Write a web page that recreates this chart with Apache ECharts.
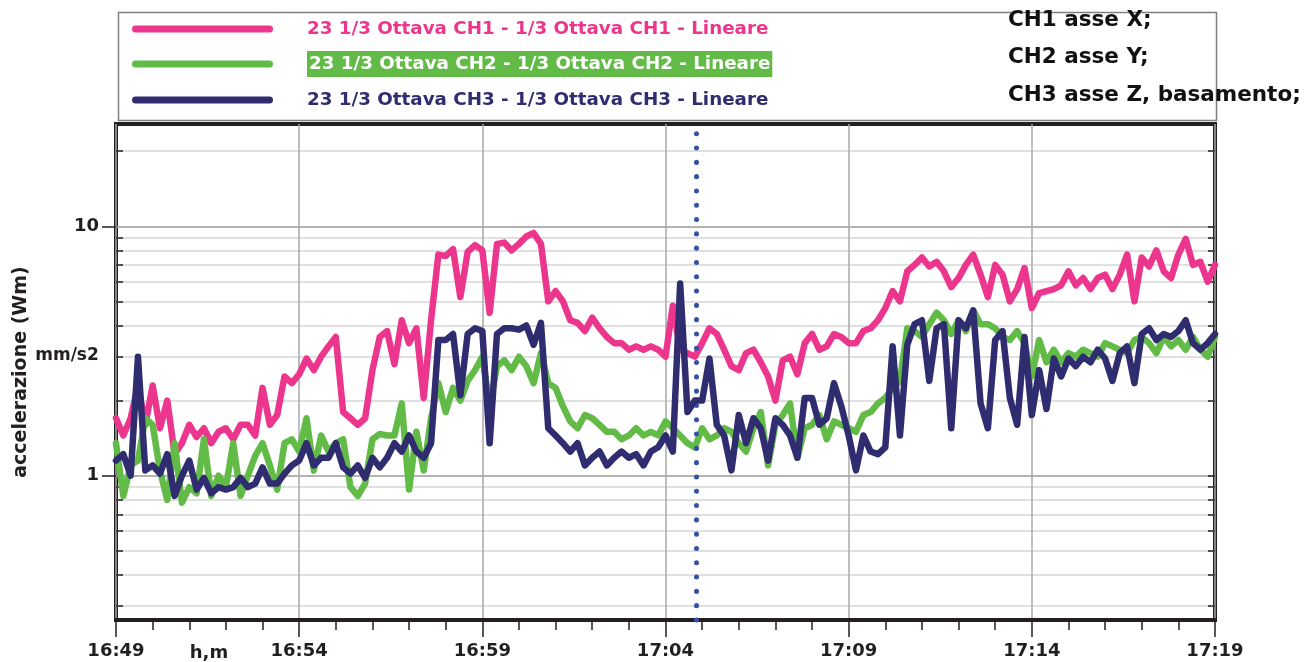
<!DOCTYPE html>
<html>
<head>
<meta charset="utf-8">
<script src="https://cdn.jsdelivr.net/npm/echarts@6/dist/echarts.min.js"></script>
<style>html,body{margin:0;padding:0;background:#fff;}#chart{width:1314px;height:662px;}</style>
</head>
<body>
<div id="chart"></div>
<script>
// ---- data (sampled every 0.2 min from 16:49) ----
const START_LABEL_MIN = 16 * 60 + 49;   // 16:49
const STEP_MIN = 0.2;
const SERIES_NAMES = [
  '23 1/3 Ottava CH1 - 1/3 Ottava CH1 - Lineare',
  '23 1/3 Ottava CH2 - 1/3 Ottava CH2 - Lineare',
  '23 1/3 Ottava CH3 - 1/3 Ottava CH3 - Lineare'
];
const CH1 = [
  1.7, 1.45, 1.7, 2.3, 1.6, 2.3, 1.55, 2.0, 1.22, 1.35, 1.6, 1.43, 1.55, 1.35, 1.5, 1.55, 1.4, 1.6, 1.6, 1.45,
  2.25, 1.6, 1.75, 2.5, 2.35, 2.55, 2.95, 2.65, 3.0, 3.3, 3.6, 1.8, 1.7, 1.6, 1.7, 2.65, 3.6, 3.8, 2.8, 4.2, 3.4,
  3.9, 2.05, 4.2, 7.7, 7.6, 8.1, 5.2, 7.9, 8.4, 8.0, 4.5, 8.5, 8.6, 8.0, 8.5, 9.1, 9.4, 8.5, 5.0, 5.5,
  5.0, 4.2, 4.1, 3.8, 4.3, 3.9, 3.6, 3.4, 3.4, 3.2, 3.3, 3.2, 3.3, 3.2, 3.0, 4.8, 3.2, 3.1, 3.0,
  3.4, 3.9, 3.7, 3.2, 2.75, 2.65, 3.1, 3.2, 2.85, 2.5, 2.0, 2.9, 3.0, 2.55, 3.4, 3.7, 3.2, 3.3, 3.7, 3.6,
  3.4, 3.4, 3.8, 3.9, 4.2, 4.7, 5.5, 5.0, 6.6, 7.0, 7.5, 6.9, 7.2, 6.6, 5.7, 6.2, 7.0, 7.7, 6.4, 5.2,
  7.0, 6.4, 5.0, 5.6, 6.8, 4.7, 5.4, 5.5, 5.6, 5.8, 6.6, 5.8, 6.2, 5.6, 6.2, 6.4, 5.6, 6.4, 7.7, 5.0,
  7.5, 6.9, 8.0, 6.6, 6.2, 7.7, 8.9, 7.0, 7.2, 6.0, 7.0
];
const CH2 = [
  1.35, 0.83, 1.1, 1.15, 1.7, 1.6, 1.05, 0.8, 1.35, 0.78, 0.9, 0.85, 1.4, 0.83, 1.0, 0.9, 1.35, 0.83, 1.0, 1.2,
  1.35, 1.1, 0.88, 1.35, 1.4, 1.25, 1.7, 1.05, 1.45, 1.25, 1.35, 1.4, 0.9, 0.83, 0.93, 1.4, 1.47, 1.45, 1.45, 1.95, 0.88,
  1.5, 1.05, 1.7, 2.35, 1.8, 2.25, 2.0, 2.4, 2.65, 3.0, 1.9, 2.75, 2.9, 2.65, 3.0, 2.75, 2.35, 3.1, 2.35, 2.25,
  1.9, 1.65, 1.55, 1.75, 1.7, 1.6, 1.5, 1.5, 1.4, 1.45, 1.55, 1.45, 1.5, 1.45, 1.65, 1.55, 1.45, 1.35, 1.3,
  1.55, 1.4, 1.45, 1.55, 1.5, 1.35, 1.25, 1.55, 1.8, 1.1, 1.6, 1.75, 1.95, 1.18, 1.55, 1.6, 1.75, 1.4, 1.65, 1.6,
  1.55, 1.5, 1.75, 1.8, 1.95, 2.05, 2.25, 2.4, 3.9, 3.8, 3.6, 4.05, 4.5, 4.2, 3.7, 4.2, 3.8, 4.6, 4.05, 4.05,
  3.9, 3.6, 3.5, 3.8, 3.4, 2.5, 3.5, 2.85, 3.2, 2.85, 3.1, 3.0, 3.2, 3.1, 3.0, 3.4, 3.3, 3.2, 3.1, 3.5,
  3.6, 3.4, 3.1, 3.6, 3.3, 3.5, 3.2, 3.6, 3.2, 3.0, 3.6
];
const CH3 = [
  1.15, 1.22, 1.0, 3.0, 1.05, 1.1, 1.02, 1.22, 0.83, 1.0, 1.15, 0.88, 0.98, 0.85, 0.9, 0.88, 0.9, 0.98, 0.9, 0.93,
  1.08, 0.93, 0.93, 1.02, 1.1, 1.15, 1.35, 1.1, 1.18, 1.18, 1.35, 1.08, 1.02, 1.1, 0.98, 1.18, 1.08, 1.18, 1.35, 1.25, 1.45,
  1.25, 1.18, 1.35, 3.5, 3.5, 3.7, 2.1, 3.7, 3.9, 3.8, 1.35, 3.7, 3.9, 3.9, 3.85, 4.0, 3.35, 4.1, 1.55, 1.45,
  1.35, 1.25, 1.35, 1.1, 1.18, 1.25, 1.1, 1.18, 1.25, 1.18, 1.22, 1.1, 1.25, 1.3, 1.45, 1.25, 5.9, 1.8, 2.0,
  2.0, 2.95, 1.6, 1.45, 1.05, 1.75, 1.35, 1.7, 1.55, 1.15, 1.7, 1.6, 1.45, 1.18, 2.05, 2.05, 1.6, 1.7, 2.35, 1.9,
  1.45, 1.05, 1.45, 1.25, 1.22, 1.3, 3.3, 1.45, 3.35, 4.05, 4.2, 2.4, 3.9, 4.05, 1.55, 4.2, 3.9, 4.6, 1.95, 1.55,
  3.5, 3.8, 2.05, 1.6, 3.6, 1.75, 2.65, 1.85, 2.95, 2.5, 2.95, 2.75, 3.0, 2.85, 3.2, 2.95, 2.4, 3.1, 3.3, 2.35,
  3.7, 3.9, 3.5, 3.7, 3.6, 3.8, 4.2, 3.4, 3.2, 3.4, 3.7
];
const CURSOR_MIN = 15.83;                 // dotted cursor (~17:04:50)
const Y_MAJOR = [1, 10];
const Y_MINOR = [0.3, 0.4, 0.5, 0.6, 0.7, 0.8, 0.9, 2, 3, 4, 5, 6, 7, 8, 9, 20];
const Y_MIN = 0.264, Y_MAX = 25.7;
const X_MIN = 0, X_MAX = 30, X_INTERVAL = 5;
const NOTES = ['CH1 asse X;', 'CH2 asse Y;', 'CH3 asse Z, basamento;'];

// ---- chart ----
const COLORS = ['#ec368d', '#62bb46', '#302c70'];
const FONT = 'DejaVu Sans';
const DARK = '#231f20';
const minutes = CH1.map((_, i) => +(i * STEP_MIN).toFixed(2));
const pairs = arr => arr.map((v, i) => [minutes[i], v]);
const fmtTime = v => {
  const tot = Math.round(START_LABEL_MIN + v);
  return Math.floor(tot / 60) + ':' + String(tot % 60).padStart(2, '0');
};
const capsule = 'path://M3.5,0L137.5,0A3.5,3.5,0,0,1,137.5,7L3.5,7A3.5,3.5,0,0,1,3.5,0Z';

const chart = echarts.init(document.getElementById('chart'), null, { renderer: 'canvas' });

function legendFor(i, centerY) {
  const isGreen = i === 1;
  const h = isGreen ? 30 : 22;
  return {
    show: true,
    left: 132,
    top: centerY - h / 2,
    orient: 'horizontal',
    padding: 0,
    itemWidth: 141,
    itemHeight: 7,
    icon: capsule,
    itemStyle: { borderWidth: 0 },
    selectedMode: false,
    data: [SERIES_NAMES[i]],
    formatter: n => '{t|' + n + '}',
    textStyle: {
      padding: [0, 0, 0, 29],
      rich: {
        t: {
          fontFamily: FONT, fontSize: 18.3, fontWeight: 'bold', lineHeight: 22,
          color: isGreen ? '#ffffff' : COLORS[i],
          backgroundColor: isGreen ? COLORS[1] : 'transparent',
          padding: isGreen ? [4, 2, 4, 2] : [0, 0, 0, 0]
        }
      }
    }
  };
}

const option = {
  backgroundColor: '#ffffff',
  animation: false,
  grid: {
    left: 116, right: 99, top: 124, bottom: 42,
    show: true, borderColor: DARK, borderWidth: 4, backgroundColor: '#ffffff'
  },
  legend: [legendFor(0, 31), legendFor(1, 66), legendFor(2, 102)],
  xAxis: {
    type: 'value', min: X_MIN, max: X_MAX, interval: X_INTERVAL,
    axisLine: { show: true, lineStyle: { color: DARK, width: 4 } },
    axisTick: { show: true, length: 17, lineStyle: { color: DARK, width: 1.5 } },
    minorTick: { show: true, splitNumber: 5, length: 10, lineStyle: { color: DARK, width: 1.5 } },
    splitLine: { show: true, lineStyle: { color: '#a8a8a8', width: 1.5 } },
    axisLabel: {
      formatter: fmtTime, margin: 22, showMinLabel: true, showMaxLabel: true,
      fontFamily: FONT, fontSize: 18, fontWeight: 'bold', color: DARK
    }
  },
  yAxis: [
    {
      type: 'log', logBase: 10, min: Y_MIN, max: Y_MAX, position: 'left',
      axisLine: { show: false },
      axisTick: { show: true, inside: false, length: 14, customValues: Y_MAJOR, lineStyle: { color: DARK, width: 1.5 } },
      axisLabel: { customValues: Y_MAJOR, margin: 17, fontFamily: FONT, fontSize: 18, fontWeight: 'bold', color: DARK, formatter: v => String(v) },
      splitLine: { show: true, lineStyle: { color: '#9a9a9a', width: 1.5 } },
      name: 'accelerazione (Wm)', nameLocation: 'middle', nameGap: 85,
      nameTextStyle: { fontFamily: FONT, fontSize: 19, fontWeight: 'bold', color: DARK }
    },
    {
      type: 'log', logBase: 10, min: Y_MIN, max: Y_MAX, position: 'left',
      axisLine: { show: false },
      axisTick: { show: true, inside: true, length: 7, customValues: Y_MINOR, lineStyle: { color: DARK, width: 1.5 } },
      axisLabel: { show: false, customValues: Y_MINOR },
      splitLine: { show: true, lineStyle: { color: '#d6d6d6', width: 1.5 } }
    },
    {
      type: 'log', logBase: 10, min: Y_MIN, max: Y_MAX, position: 'right',
      axisLine: { show: false },
      axisTick: { show: true, inside: true, length: 7, customValues: Y_MAJOR.concat(Y_MINOR), lineStyle: { color: DARK, width: 1.5 } },
      axisLabel: { show: false, customValues: Y_MAJOR.concat(Y_MINOR) },
      splitLine: { show: false }
    }
  ],
  series: [CH1, CH2, CH3].map((arr, i) => ({
    name: SERIES_NAMES[i],
    type: 'line',
    yAxisIndex: 0,
    data: pairs(arr),
    showSymbol: false,
    symbol: 'none',
    color: COLORS[i],
    lineStyle: { color: COLORS[i], width: 6.5, cap: 'round', join: 'round' },
    z: 3 + i,
    markLine: i === 2 ? {
      silent: true, symbol: ['none', 'none'], label: { show: false },
      lineStyle: { color: '#3452a6', width: 5, type: [0.1, 14.2], cap: 'round' },
      data: [{ xAxis: CURSOR_MIN }]
    } : undefined
  })),
  graphic: [
    { type: 'rect', left: 116, top: 10, shape: { x: 0, y: 0, width: 1098, height: 108 },
      style: { fill: 'none', stroke: '#808080', lineWidth: 1.5 }, z: -1 },
    { type: 'text', left: 1008, top: 9, style: { text: NOTES[0], fontFamily: FONT, fontSize: 21.5, fontWeight: 'bold', fill: '#111' } },
    { type: 'text', left: 1008, top: 46, style: { text: NOTES[1], fontFamily: FONT, fontSize: 21.5, fontWeight: 'bold', fill: '#111' } },
    { type: 'text', left: 1008, top: 84, style: { text: NOTES[2], fontFamily: FONT, fontSize: 21.5, fontWeight: 'bold', fill: '#111' } },
    { type: 'text', x: 67, y: 356, style: { text: 'mm/s2', fontFamily: FONT, fontSize: 17, fontWeight: 'bold', fill: DARK, align: 'center', verticalAlign: 'middle' } },
    { type: 'text', x: 209, y: 653, style: { text: 'h,m', fontFamily: FONT, fontSize: 18, fontWeight: 'bold', fill: DARK, align: 'center', verticalAlign: 'middle' } }
  ]
};
chart.setOption(option);
</script>
</body>
</html>
